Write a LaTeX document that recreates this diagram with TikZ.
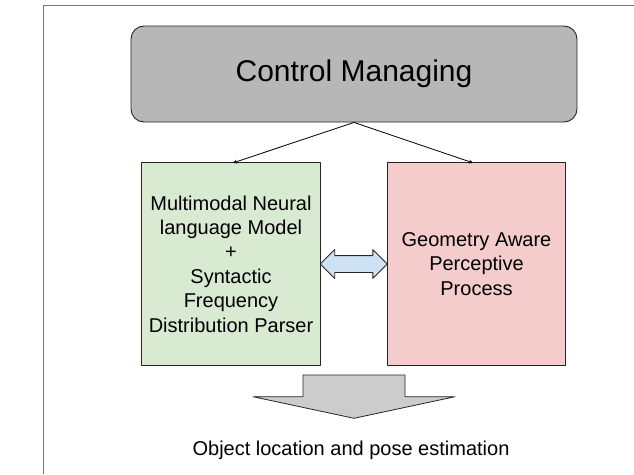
\documentclass[tikz,border=0pt]{standalone}
\usepackage{fontspec}
\setmainfont{Liberation Sans}
\usetikzlibrary{shapes.arrows,calc}
\definecolor{ctrlgray}{HTML}{B7B7B7}
\definecolor{outgray}{HTML}{CCCCCC}
\definecolor{langgreen}{HTML}{D9EAD3}
\definecolor{geompink}{HTML}{F4CCCC}
\definecolor{linkblue}{HTML}{CFE2F3}
\definecolor{edgegray}{HTML}{777777}
\begin{document}
\begin{tikzpicture}[x=1pt,y=-1pt,line join=round,>=stealth]
		\def\boxw{178.5}
		\def\boxh{202.3}
		\tikzset{block/.style={draw=black!85,line width=0.9pt,align=center,font=\fontsize{20}{24.4}\selectfont,inner sep=0pt}}
		\useasboundingbox (0,0) rectangle (634,474);
		% outer frame, runs off the page on the right and bottom
		\draw[edgegray,line width=1.2pt] (43.5,474) -- (43.5,5.8) -- (634,5.8);
		\node[block,fill=ctrlgray,rounded corners=13pt,minimum width=446,minimum height=96,font=\fontsize{30}{36}\selectfont] (ctrl) at (354,74) {Control Managing};
		\node[block,fill=langgreen,minimum width=\boxw,minimum height=\boxh] (lang) at (231,264) {Multimodal Neural\\language Model\\+\\Syntactic\\Frequency\\Distribution Parser};
		\node[block,fill=geompink,minimum width=\boxw,minimum height=\boxh] (geom) at (476.5,264) {Geometry Aware\\Perceptive\\Process};
		\coordinate (langin) at (233,\fpeval{264-\boxh/2});
		\coordinate (geomin) at (473,\fpeval{264-\boxh/2});
		\draw[->,line width=0.8pt] (ctrl.south) -- (langin);
		\draw[->,line width=0.8pt] (ctrl.south) -- (geomin);
		% two-way link between the two modules
		\node[double arrow,draw=black!85,line width=0.8pt,fill=linkblue,inner sep=8pt,minimum height=67,double arrow head extend=6pt] (link) at ($(lang.east)!.5!(geom.west)$) {};
		% output arrow
		\draw[draw=black!85,line width=0.8pt,fill=outgray] (303,375) -- (405,375) -- (405,396.7) -- (455,396.7) -- (354,418.3) -- (253,396.7) -- (303,396.7) -- cycle;
		\node[font=\fontsize{20}{24}\selectfont,anchor=base] (out) at (351,455) {Object location and pose estimation};
\end{tikzpicture}
\end{document}
